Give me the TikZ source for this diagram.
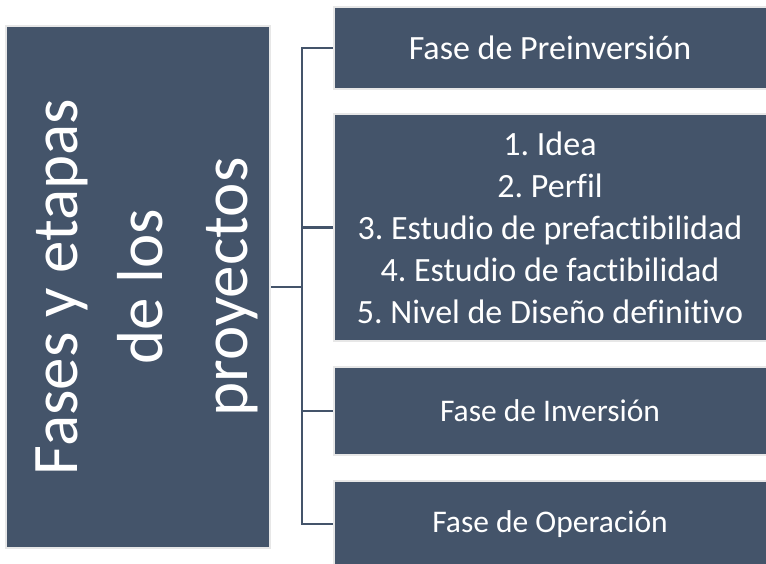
\documentclass[tikz,border=0pt]{standalone}
\usepackage{fontspec}
\setmainfont{Carlito}[Ligatures=NoCommon]
\frenchspacing
\tikzset{
  fasebox/.style={fill=pizarra, draw=borde, line width=2pt, text=white,
    align=center, inner sep=0pt},
  conector/.style={draw=pizarra, line width=2.5pt}
}
\begin{document}
\begin{tikzpicture}[x=1pt, y=-1pt]
  \definecolor{pizarra}{HTML}{44546A}
  \definecolor{borde}{HTML}{E7E7E7}
  \useasboundingbox (0,0) rectangle (766,564);
  \node[fasebox, minimum width=264pt, minimum height=522pt] (titulo) at (138,287)
    {\hspace{18pt}\rotatebox{90}{\parbox{500pt}{\centering\fontsize{65}{85}\selectfont
      Fases y etapas\\de los\\proyectos}}};
  \node[fasebox, minimum width=433pt, minimum height=82pt,
        font=\fontsize{34}{42}\selectfont] (pre) at (550,48) {Fase de Preinversión};
  \node[fasebox, minimum width=433pt, minimum height=227pt,
        font=\fontsize{34}{42}\selectfont] (etapas) at (550,227.5)
    {1. Idea\\2. Perfil\\3. Estudio de prefactibilidad\\4. Estudio de factibilidad\\5. Nivel de Diseño definitivo};
  \node[fasebox, minimum width=433pt, minimum height=88pt,
        font=\fontsize{31.5}{38}\selectfont] (inv) at (550,411) {Fase de Inversión};
  \node[fasebox, minimum width=433pt, minimum height=86pt,
        font=\fontsize{31.5}{38}\selectfont] (ope) at (550,524) {Fase de Operación};
  \coordinate (bus) at (302,287);
  \draw[conector] (titulo.east) -- (bus);
  \foreach \b in {pre,etapas,inv,ope}
    \draw[conector] (bus) |- (\b.west);
\end{tikzpicture}
\end{document}
